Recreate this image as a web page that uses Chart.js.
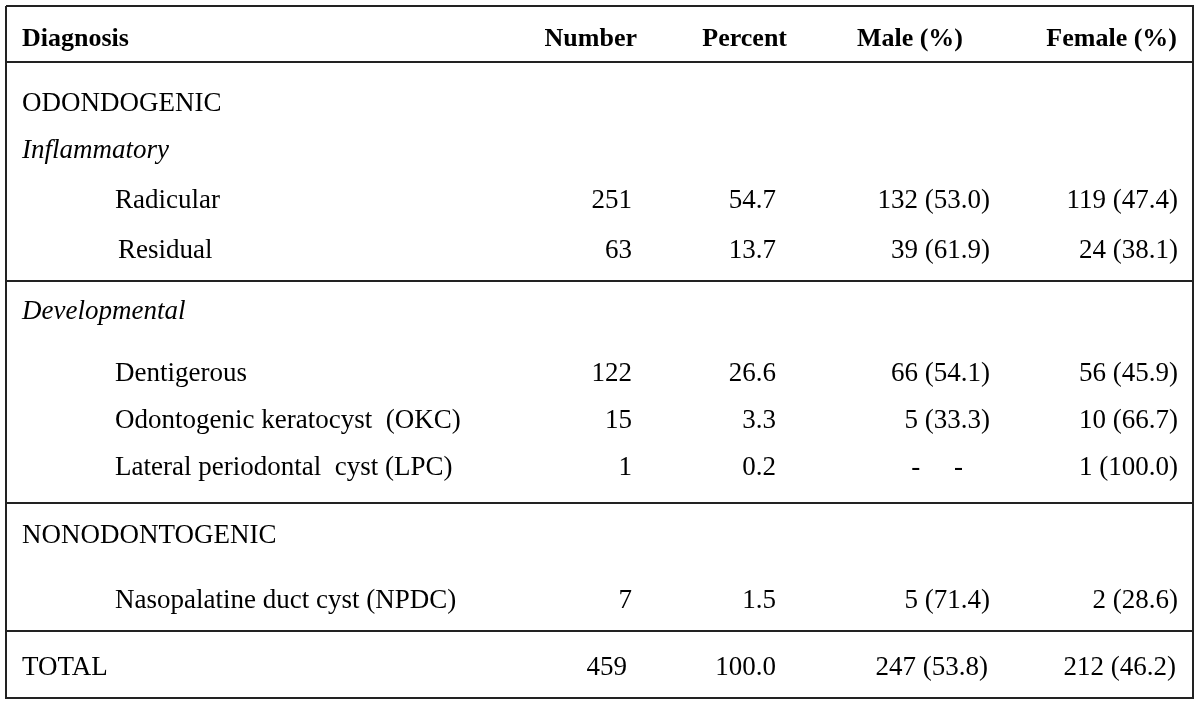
<!DOCTYPE html>
<html>
<head>
<meta charset="utf-8">
<script src="https://cdn.jsdelivr.net/npm/chart.js@4"></script>
<style>
  html, body { margin: 0; padding: 0; background: #fff; }
</style>
</head>
<body>
<canvas id="tablaQuistes" width="1200" height="705"></canvas>
<script>
// datos de la tabla
const columnHeaders = ['Diagnosis', 'Number', 'Percent', 'Male (%)', 'Female (%)'];
const groupTitles = ['ODONDOGENIC', 'NONODONTOGENIC'];
const subGroupTitles = ['Inflammatory', 'Developmental'];
const diagnoses = ['Radicular', 'Residual', 'Dentigerous', 'Odontogenic keratocyst  (OKC)', 'Lateral periodontal  cyst (LPC)', 'Nasopalatine duct cyst (NPDC)'];
const counts = [251, 63, 122, 15, 1, 7];
const percents = [54.7, 13.7, 26.6, 3.3, 0.2, 1.5];
const maleCounts = [132, 39, 66, 5, null, 5];
const malePercents = [53.0, 61.9, 54.1, 33.3, null, 71.4];
const femaleCounts = [119, 24, 56, 10, 1, 2];
const femalePercents = [47.4, 38.1, 45.9, 66.7, 100.0, 28.6];
const totalLabel = 'TOTAL';
const totalCount = 459, totalPercent = 100.0;
const totalMale = 247, totalMalePercent = 53.8;
const totalFemale = 212, totalFemalePercent = 46.2;

// posiciones (unidades de las escalas)
const rowBaselines = [46, 111, 158, 208, 258, 319, 381, 428, 475, 543, 608, 675];
const ruleRows = [62, 281, 503, 631];
const frame = { left: 6, right: 1193, top: 6, bottom: 698 };
const colLeft = 22, colIndent = 115;
const colRight = [637, 787, 963, 1177];   // cabeceras
const dataRight = [632, 776, 990, 1178];  // valores

const serif = '"Liberation Serif", "Times New Roman", serif';
const fBody = '27px ' + serif, fItalic = 'italic 27px ' + serif, fBold = 'bold 26px ' + serif;

function fmt(n){ return n.toFixed(1); }
function conPct(c, p){ return c == null ? '-     -' : c + ' (' + fmt(p) + ')'; }

// armamos las celdas
let celdas = [];
function celda(x, y, text, font, align){ celdas.push({ x: x, y: y, text: text, font: font, align: align }); }

columnHeaders.forEach((h, i) => {
    if (i == 0) celda(colLeft, rowBaselines[0], h, fBold, 'left');
    else celda(colRight[i - 1], rowBaselines[0], h, fBold, 'right');
});
celda(colLeft, rowBaselines[1], groupTitles[0], fBody, 'left');
celda(colLeft, rowBaselines[2], subGroupTitles[0], fItalic, 'left');
celda(colLeft, rowBaselines[5], subGroupTitles[1], fItalic, 'left');
celda(colLeft, rowBaselines[9], groupTitles[1], fBody, 'left');

const diagRows = [3, 4, 6, 7, 8, 10];
diagnoses.forEach((d, i) => {
    let y = rowBaselines[diagRows[i]];
    celda(colIndent + (i == 1 ? 3 : 0), y, d, fBody, 'left');
    celda(dataRight[0], y, String(counts[i]), fBody, 'right');
    celda(dataRight[1], y, fmt(percents[i]), fBody, 'right');
    celda(maleCounts[i] == null ? 963 : dataRight[2], y, conPct(maleCounts[i], malePercents[i]), fBody, 'right');
    celda(dataRight[3], y, conPct(femaleCounts[i], femalePercents[i]), fBody, 'right');
});
let yT = rowBaselines[11];
celda(colLeft, yT, totalLabel, fBody, 'left');
celda(dataRight[0] - 5, yT, String(totalCount), fBody, 'right');
celda(dataRight[1], yT, fmt(totalPercent), fBody, 'right');
celda(dataRight[2] - 2, yT, conPct(totalMale, totalMalePercent), fBody, 'right');
celda(dataRight[3] - 2, yT, conPct(totalFemale, totalFemalePercent), fBody, 'right');

// lineas de la tabla
let datasets = [{
    label: 'celdas', data: celdas, pointRadius: 0, showLine: false
}, {
    label: 'marco',
    data: [{ x: frame.left, y: frame.top }, { x: frame.right, y: frame.top }, { x: frame.right, y: frame.bottom }, { x: frame.left, y: frame.bottom }, { x: frame.left, y: frame.top }],
    showLine: true, pointRadius: 0, borderColor: '#222', borderWidth: 2, tension: 0
}];
ruleRows.forEach(r => {
    datasets.push({
        label: 'regla', data: [{ x: frame.left, y: r }, { x: frame.right, y: r }],
        showLine: true, pointRadius: 0, borderColor: '#222', borderWidth: 2
    });
});

const textoCeldas = {
    id: 'textoCeldas',
    afterDatasetsDraw(chart){
        let ctx = chart.ctx, meta = chart.getDatasetMeta(0);
        ctx.save();
        ctx.fillStyle = '#000';
        ctx.textBaseline = 'alphabetic';
        meta.data.forEach((pt, i) => {
            let raw = chart.data.datasets[0].data[i];
            ctx.font = raw.font; ctx.textAlign = raw.align;
            ctx.fillText(raw.text, pt.x, pt.y);
        });
        ctx.restore();
    }
};

new Chart(document.getElementById('tablaQuistes').getContext('2d'), {
    type: 'scatter',
    data: { datasets: datasets },
    options: {
        responsive: false, animation: false, devicePixelRatio: 1,
        layout: { padding: 0 },
        scales: {
            x: { type: 'linear', min: 0, max: 1200, display: false },
            y: { type: 'linear', min: 0, max: 705, reverse: true, display: false }
        },
        plugins: { legend: { display: false }, tooltip: { enabled: false } },
        events: []
    },
    plugins: [textoCeldas]
});
</script>
</body>
</html>
